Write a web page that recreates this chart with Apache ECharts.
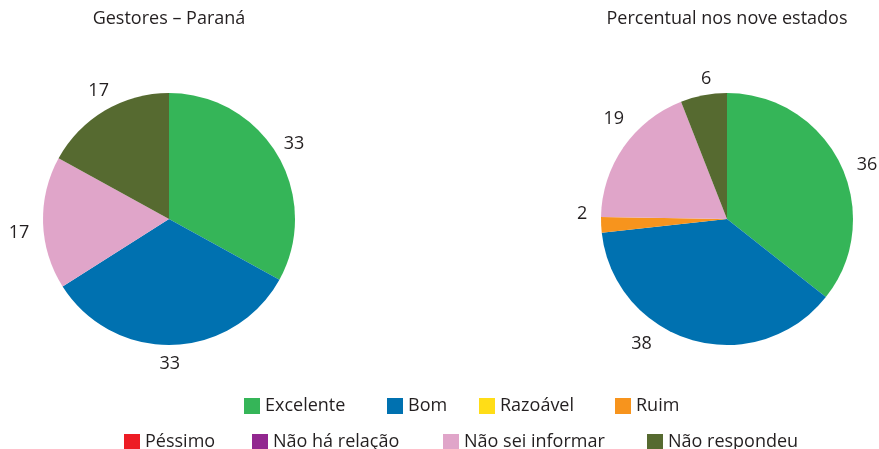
<!DOCTYPE html>
<html><head><meta charset="utf-8">
<script src="https://cdn.jsdelivr.net/npm/echarts@6/dist/echarts.min.js"></script>
<style>html,body{margin:0;padding:0;background:#fff}#c{width:879px;height:449px}</style>
</head><body><div id="c"></div>
<script>
// ---- data ----
const categories = ['Excelente', 'Bom', 'Razoável', 'Ruim', 'Péssimo', 'Não há relação', 'Não sei informar', 'Não respondeu'];
const paranaValues = [33, 33, 0, 0, 0, 0, 17, 17];
const noveEstadosValues = [36, 38, 0, 2, 0, 0, 19, 6];
const chartTitles = ['Gestores – Paraná', 'Percentual nos nove estados'];

// ---- styles / layout ----
const colors = ['#35b558', '#0071b0', '#ffdd17', '#f7941d', '#ed1c24', '#92278f', '#e0a5c9', '#566a30'];
const FONT = '"Open Sans", sans-serif';
const FS = 18;
const TXT = '#231f20';
const pieCenters = [[169, 219], [727, 219]];
const R = 126;
const legendPos = [[244, 397], [387, 397], [479, 397], [615, 397], [124, 433], [252, 433], [443, 433], [647, 433]];
// small hand-placement nudges of value labels (as in the original artwork)
const labelNudge = [
  [[-4, 1], [-4, -5], [0, 0], [0, 0], [0, 0], [0, 0], [0, 9], [6, 1]],
  [[5, 11], [-44, -19], [0, 0], [5, -12], [0, 0], [0, 0], [10, -15], [7, 7]]
];

function mkSeries(vals, center, k) {
  return [
    {
      type: 'pie', center: center, radius: R, startAngle: 90, clockwise: true,
      data: categories.map((n, i) => ({ name: n, value: vals[i], itemStyle: { color: colors[i] } })),
      label: { show: false }, labelLine: { show: false },
      itemStyle: { borderWidth: 0 }, emphasis: { disabled: true }, silent: true
    },
    {
      type: 'pie', center: center, radius: [R, R + 42], startAngle: 90, clockwise: true,
      data: categories.map((n, i) => ({
        name: n, value: vals[i], itemStyle: { color: 'rgba(0,0,0,0)' },
        label: { offset: labelNudge[k][i] }
      })),
      label: {
        show: true, position: 'inside', color: TXT, fontSize: FS, fontFamily: FONT,
        formatter: p => (p.value ? String(p.value) : '')
      },
      labelLine: { show: false }, emphasis: { disabled: true }, silent: true,
      itemStyle: { borderWidth: 0 }
    }
  ];
}

const option = {
  animation: false,
  backgroundColor: '#fff',
  title: chartTitles.map((t, i) => ({
    text: t, left: pieCenters[i][0], textAlign: 'center', top: 10, padding: 0,
    textStyle: { fontFamily: FONT, fontSize: FS, fontWeight: 'normal', color: TXT }
  })),
  legend: categories.map((n, i) => ({
    data: [n], left: legendPos[i][0], top: legendPos[i][1], padding: 0,
    itemWidth: 16, itemHeight: 16, itemGap: 0, icon: 'rect', selectedMode: false,
    textStyle: { fontFamily: FONT, fontSize: FS, color: TXT, lineHeight: 17, padding: [0, 0, 0, 0] }
  })),
  series: [...mkSeries(paranaValues, pieCenters[0], 0), ...mkSeries(noveEstadosValues, pieCenters[1], 1)]
};

const chart = echarts.init(document.getElementById('c'), null, { renderer: 'canvas' });
chart.setOption(option);
</script>
</body></html>
